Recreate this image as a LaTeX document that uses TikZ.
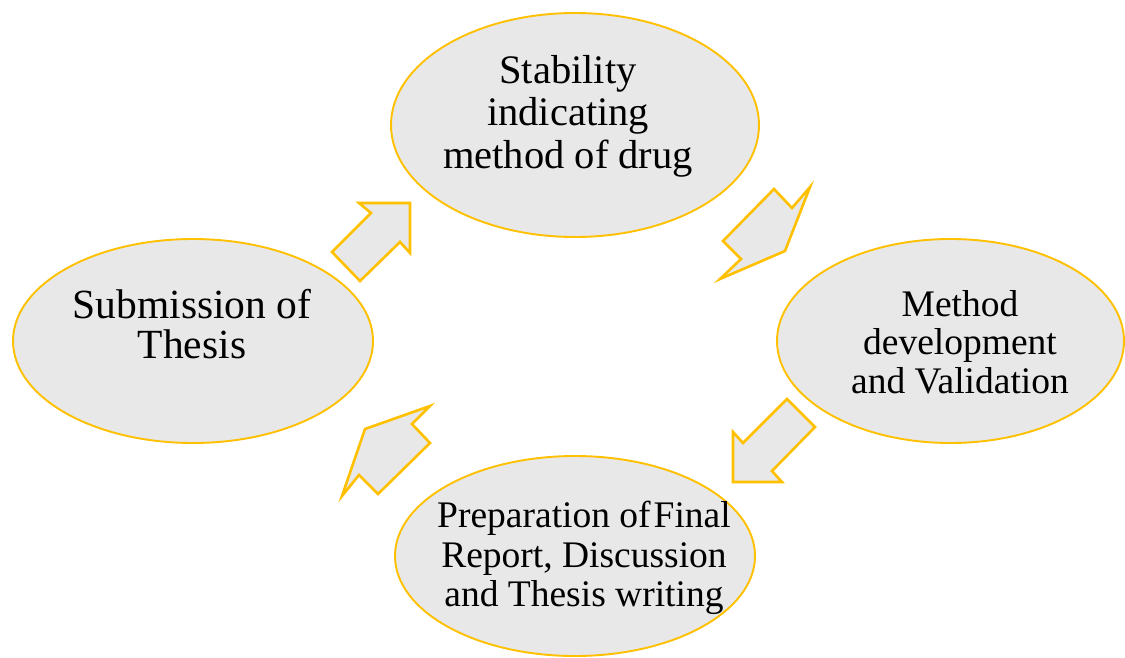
\documentclass[tikz,border=0pt]{standalone}
\usepackage{fontspec}
\setmainfont{Liberation Serif}
\usepackage{tikz}
\usetikzlibrary{shapes.geometric}
\definecolor{gold}{HTML}{FFC000}
\definecolor{stagegray}{HTML}{E8E8E8}

\begin{document}
\begin{tikzpicture}[x=1pt,y=-1pt]
\tikzset{stage/.style={
    ellipse,
    draw=gold,
    fill=stagegray,
    line width=1.9pt,
    inner sep=0pt,
    minimum width=#1
  },
  stage text/.style={
    align=center,
    inner sep=0pt,
    text=black,
    font=\fontsize{#1}{#1}\selectfont
  },
  block arrow/.style={
    draw=gold,
    fill=stagegray,
    line width=2.6pt,
    line join=miter
  }
}
\useasboundingbox (0,0) rectangle (1125,657);
\node[stage=368pt, minimum height=224pt] (stability) at (575,125) {};
\node[stage=347pt, minimum height=204pt] (method) at (950.5,341) {};
\node[stage=360pt, minimum height=200pt] (report) at (575,556) {};
\node[stage=360pt, minimum height=204pt] (thesis) at (193,341) {};
\node[stage text=40.5, font=\fontsize{40.5}{42.5}\selectfont] (stability text) at (568,116) {Stability\\indicating\\method of drug};
\node[stage text=37.5, font=\fontsize{37.5}{38.5}\selectfont] (method text) at (960,342) {Method\\development\\and Validation};
\node[stage text=37.5, font=\fontsize{37.5}{39.5}\selectfont] (report text) at (584,558) {Preparation of\hspace{0.08em}Final\\Report, Discussion\\and Thesis writing};
\node[stage text=41.5, font=\fontsize{41.5}{40}\selectfont] (thesis text) at (192,324) {Submission of\\Thesis};
\draw[block arrow] (359,203) -- (410,203) -- (410,253) -- (400,242) -- (360,281) -- (332,252) -- (371,213) -- cycle;
\draw[block arrow] (810,187) -- (792,208) -- (774,189) -- (723,241) -- (741,259) -- (720,279) -- (785,251) -- cycle;
\draw[block arrow] (787,399) -- (815,427) -- (772,471) -- (782,482) -- (733,482) -- (733,432) -- (743,443) -- cycle;
\draw[block arrow] (430,406) -- (412,424) -- (430,443) -- (378,494) -- (359,475) -- (342,496) -- (365,429) -- cycle;
\end{tikzpicture}
\end{document}
